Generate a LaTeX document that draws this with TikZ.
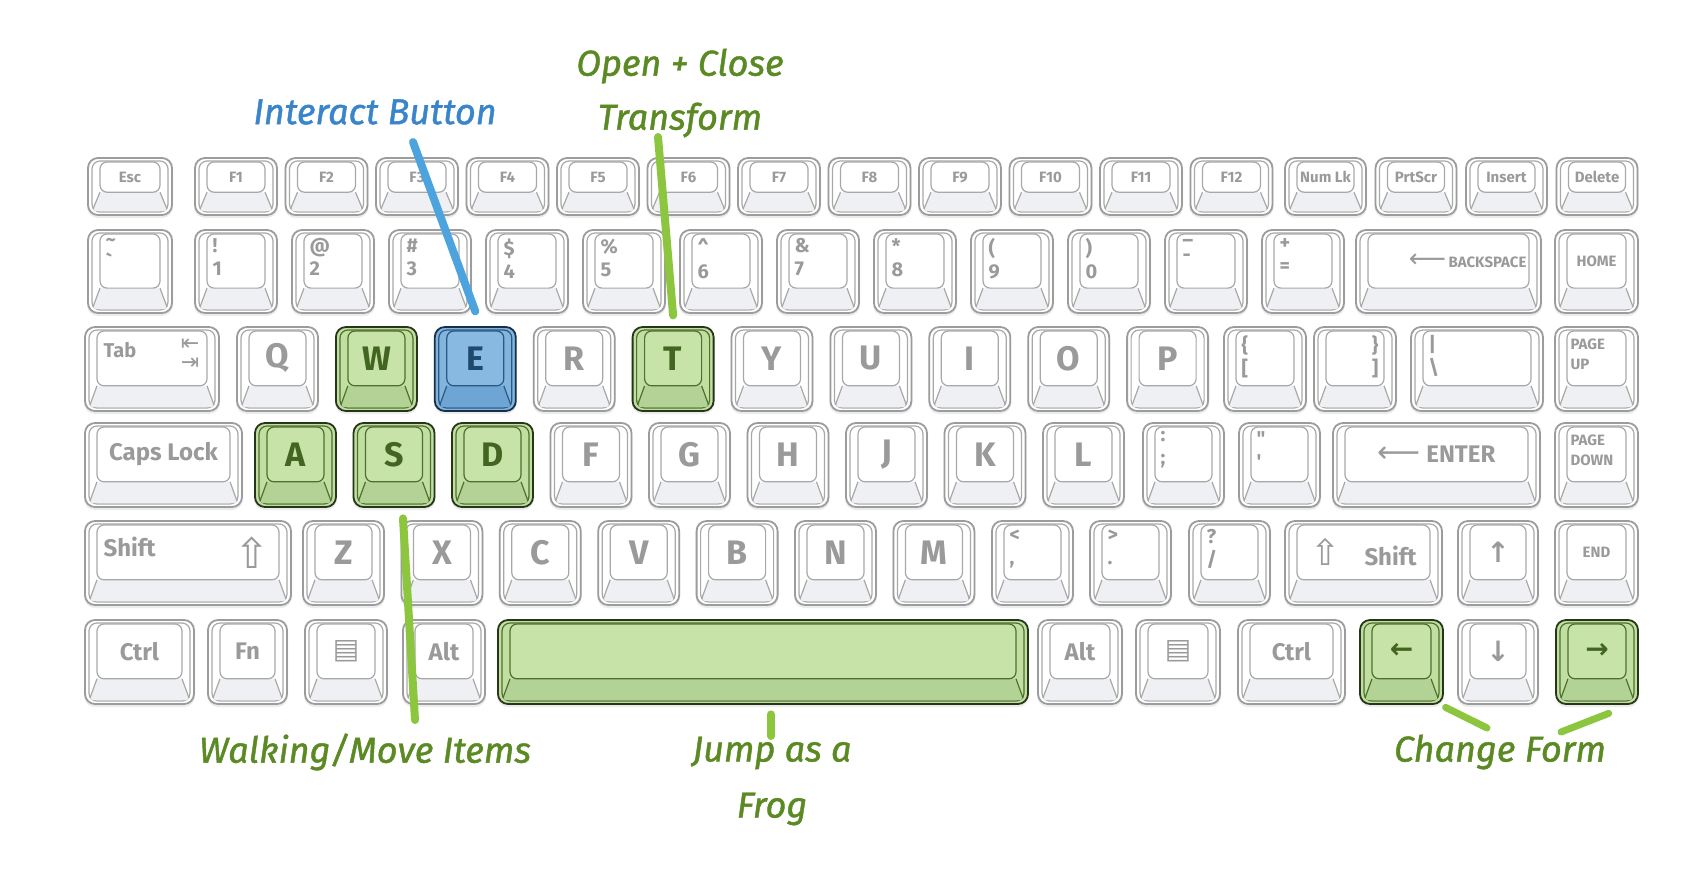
\documentclass[tikz,border=0pt]{standalone}
\usepackage{fontspec}
\setsansfont{Fira Sans}
\newfontfamily\symfont{DejaVu Sans}
\newfontfamily\handfont{Fira Sans}[ItalicFeatures={FakeBold=1.2}]
\usetikzlibrary{positioning}

\definecolor{stdRim}{HTML}{9C9C9C}
\definecolor{stdLine}{HTML}{A8A8A8}
\definecolor{stdFace}{HTML}{FFFFFF}
\definecolor{stdSide}{HTML}{FFFFFF}
\definecolor{stdSkirt}{HTML}{EEF0F3}
\definecolor{stdTxt}{HTML}{9A9A9A}
\definecolor{grnRim}{HTML}{26361A}
\definecolor{grnLine}{HTML}{4F6F2E}
\definecolor{grnFace}{HTML}{C8E3A8}
\definecolor{grnSide}{HTML}{C2DFA2}
\definecolor{grnSkirt}{HTML}{B3D396}
\definecolor{grnTxt}{HTML}{426622}
\definecolor{bluRim}{HTML}{16304A}
\definecolor{bluLine}{HTML}{2A5882}
\definecolor{bluFace}{HTML}{88BAE1}
\definecolor{bluSide}{HTML}{82B5DE}
\definecolor{bluSkirt}{HTML}{6EA5D4}
\definecolor{bluTxt}{HTML}{1E4A70}
\definecolor{tipGreen}{HTML}{8CC63F}
\definecolor{tipBlue}{HTML}{4DA3DD}
\definecolor{noteGreen}{HTML}{5B8A24}
\definecolor{noteBlue}{HTML}{3A85C9}
\definecolor{keyShade}{HTML}{ECECEC}

\newcommand\kfL{\sffamily\bfseries\fontsize{34}{34}\selectfont}
\newcommand\kfM{\sffamily\bfseries\fontsize{24}{24}\selectfont}
\newcommand\kfS{\sffamily\bfseries\fontsize{20}{23}\selectfont}
\newcommand\kfT{\sffamily\bfseries\fontsize{15}{15}\selectfont}
\newcommand\kfP{\sffamily\bfseries\fontsize{15}{20}\selectfont}
\newcommand\kfA{\symfont\bfseries\fontsize{28}{28}\selectfont}
\newcommand\kfN{\handfont\itshape\fontsize{36}{54}\selectfont}

\def\kcol{std}
\def\kff{0.7}

% name, x, y, width, height, options, label
\newcommand\keycap[7]{%
  \begin{scope}[shift={({#2},{#3})},#6]
    \def\kname{#1}
    \fill[keyShade, rounded corners=11pt] (-1,2) rectangle ({#4+1},{#5+3});
    \filldraw[fill=\kcol Side, draw=\kcol Rim, line width=1.8pt, rounded corners=10pt] (0,0) rectangle (#4,#5);
    \draw[draw=\kcol Line, line width=1.2pt, rounded corners=8pt] (4,3) rectangle ({#4-4},{#5-3});
    \fill[fill=\kcol Skirt, rounded corners=3pt] (12,{\kff*#5}) -- ({#4-12},{\kff*#5}) -- ({#4-5},{#5-4}) -- (5,{#5-4}) -- cycle;
    \draw[draw=\kcol Line, line width=1.2pt] (12,{\kff*#5}) -- (5,{#5-6}) ({#4-12},{\kff*#5}) -- ({#4-5},{#5-6});
    \node[keyface, minimum width={#4-24}, minimum height={\kff*#5-4}] (#1) at ({#4/2},{(\kff*#5+4)/2}) {};
    \node[keylab, at={(#1.center)}, labopts] (#1-t) {#7};
  \end{scope}}

\begin{document}
\begin{tikzpicture}[x=1pt, y=-1pt,
  keyface/.style={draw=\kcol Line, fill=\kcol Face, line width=1.2pt, rounded corners=7pt, inner sep=0pt},
  keylab/.style={font=\kfL, text=\kcol Txt, inner sep=0pt, align=center},
  labopts/.style={},
  grnkey/.code={\def\kcol{grn}},
  blukey/.code={\def\kcol{blu}},
  fkey/.code={\def\kff{0.6}},
  smalllab/.style={labopts/.style={font=\kfT}},
  midlab/.style={labopts/.style={font=\kfM}},
  arrlab/.style={labopts/.style={font=\kfA}},
  symlab/.style={labopts/.style={font=\kfS, align=left, at={(\kname.north west)}, anchor=north west, shift={(6,5)}}},
  symrlab/.style={labopts/.style={font=\kfS, align=right, at={(\kname.north east)}, anchor=north east, shift={(-6,5)}}},
  toplab/.style={labopts/.style={font=\kfM, at={(\kname.north west)}, anchor=north west, shift={(7,12)}}},
  pagelab/.style={labopts/.style={font=\kfP, align=left, at={(\kname.north west)}, anchor=north west, shift={(4,8)}}},
  backlab/.style={labopts/.style={font=\kfT, at={(\kname.east)}, anchor=east, shift={(-3,0)}}},
  note/.style={font=\kfN, text=noteGreen, align=center, inner sep=0pt},
  tip/.style={draw=tipGreen, line width=8pt, line cap=round}
]
\fill[white] (0,0) rectangle (1708,876);
\useasboundingbox (0,0) rectangle (1708,876);

% function row
\keycap{kEsc}{88}{158}{84}{57}{fkey,smalllab}{Esc}
\foreach \i [count=\n from 1] in {0,...,11}
  {\keycap{kF\n}{195+90.5*\i}{158}{82}{57}{fkey,smalllab}{F\n}}
\foreach \t [count=\i from 0] in {Num Lk,PrtScr,Insert,Delete}
  {\keycap{kNav\i}{1285+90.5*\i}{158}{81}{57}{fkey,smalllab}{\t}}

% number row
\keycap{kTilde}{88}{230}{84}{83}{symlab}{\textasciitilde\\\textasciigrave}
\foreach \t/\b [count=\i from 0] in {!/1,@/2,\#/3,\$/4,\%/5,\textasciicircum/6,\&/7,*/8,{(}/9,{)}/0,\_/-,+/=}
  {\keycap{kNum\i}{195+97*\i}{230}{82}{83}{symlab}{\t\\\b}}
\keycap{kBack}{1356}{230}{185}{83}{backlab}{{\symfont\mdseries\fontsize{26}{26}\selectfont ⟵}\,BACKSPACE}
\keycap{kHome}{1555}{230}{83}{83}{smalllab}{HOME}

% top letter row
\keycap{kTab}{85}{327}{134}{84}{toplab}{{\kfS Tab}}
\node[keylab, text=stdTxt, font=\symfont\fontsize{22}{19}\selectfont, anchor=north east, align=right] (kTab-arr) at ([shift={(-8,8)}]kTab.north east) {⇤\\⇥};
\foreach \l/\s [count=\i from 0] in {Q/,W/grnkey,E/blukey,R/,T/grnkey,Y/,U/,I/,O/,P/}
  {\keycap{k\l}{237+98.9*\i}{327}{81}{84}{\s}{\l}}
\keycap{kLBr}{1224}{327}{82}{84}{symlab}{\{\\{[}}
\keycap{kRBr}{1314}{327}{82}{84}{symrlab}{\}\\{]}}
\keycap{kBsl}{1411}{327}{132}{84}{symlab}{|\\\textbackslash}
\keycap{kPgUp}{1555}{327}{83}{84}{pagelab}{PAGE\\UP}

% home row
\keycap{kCaps}{85}{423}{157}{84}{midlab}{Caps Lock}
\foreach \l/\s [count=\i from 0] in {A/grnkey,S/grnkey,D/grnkey,F/,G/,H/,J/,K/,L/}
  {\keycap{k\l}{255+98.5*\i}{423}{81}{84}{\s}{\l}}
\keycap{kSemi}{1143}{423}{81}{84}{symlab}{:\\;}
\keycap{kQuote}{1239}{423}{81}{84}{symlab}{\textquotedbl\\\textquotesingle}
\keycap{kEnter}{1333}{423}{207}{84}{midlab}{{\symfont\mdseries\fontsize{30}{30}\selectfont ⟵}\ ENTER}
\keycap{kPgDn}{1555}{423}{83}{84}{pagelab}{PAGE\\DOWN}

% bottom letter row
\keycap{kLShift}{85}{521}{206}{84}{toplab}{Shift}
\node[keylab, text=stdTxt, font=\symfont\fontsize{42}{42}\selectfont, anchor=east] (kLShift-arr) at ([xshift=-10pt]kLShift.east) {⇧};
\foreach \l [count=\i from 0] in {Z,X,C,V,B,N,M}
  {\keycap{k\l}{303+98.4*\i}{521}{81}{84}{}{\l}}
\keycap{kComma}{992}{521}{81}{84}{symlab}{<\\,}
\keycap{kDot}{1090}{521}{81}{84}{symlab}{>\\.}
\keycap{kSlash}{1189}{521}{81}{84}{symlab}{?\\/}
\keycap{kRShift}{1285}{521}{157}{84}{midlab}{{\symfont\mdseries\fontsize{36}{36}\selectfont ⇧}\hspace{24pt}Shift}
\keycap{kUp}{1458}{521}{80}{84}{arrlab}{↑}
\keycap{kEnd}{1555}{521}{83}{84}{smalllab}{END}

% space row
\keycap{kLCtrl}{85}{620}{109}{84}{midlab}{Ctrl}
\keycap{kFn}{208}{620}{79}{84}{midlab}{Fn}
\keycap{kLMenu}{305}{620}{82}{84}{arrlab}{\mdseries ▤}
\keycap{kLAlt}{403}{620}{82}{84}{midlab}{Alt}
\keycap{kSpace}{498}{620}{530}{84}{grnkey}{}
\keycap{kRAlt}{1038}{620}{84}{84}{midlab}{Alt}
\keycap{kRMenu}{1136}{620}{84}{84}{arrlab}{\mdseries ▤}
\keycap{kRCtrl}{1238}{620}{107}{84}{midlab}{Ctrl}
\keycap{kLeft}{1360}{620}{83}{84}{grnkey,arrlab}{←}
\keycap{kDown}{1458}{620}{80}{84}{arrlab}{↓}
\keycap{kRight}{1556}{620}{82}{84}{grnkey,arrlab}{→}

% notes
\node[note, text=noteBlue] (interact) at (375,112) {Interact Button};
\node[note] (openclose) at (680,93) {Open + Close\\Transform};
\node[note] (walking) at (365,752) {Walking/Move Items};
\node[note, font=\handfont\itshape\fontsize{36}{56}\selectfont] (jump) at (772,781) {Jump as a\\Frog};
\node[note] (change) at (1500,752) {Change Form};

\coordinate (iTail) at (413,142);
\coordinate (tTail) at (658,137);
\coordinate (sTail) at (415,720);
\coordinate (spTail) at (771,736);
\coordinate (lTail) at (1487,728);
\coordinate (rTail) at (1561,732);
\draw[tip, draw=tipBlue] (iTail) -- ([yshift=19pt]kE.north);
\draw[tip] (tTail) -- ([yshift=15pt]kT.north);
\draw[tip] ([shift={(9,36)}]kS.south) -- (sTail);
\draw[tip] ([shift={(8,35)}]kSpace.south) -- (spTail);
\draw[tip, line width=7pt] ([shift={(14,28)}]kLeft.south east) -- (lTail);
\draw[tip, line width=7pt] ([shift={(-18,34)}]kRight.south east) -- (rTail);
\end{tikzpicture}
\end{document}
